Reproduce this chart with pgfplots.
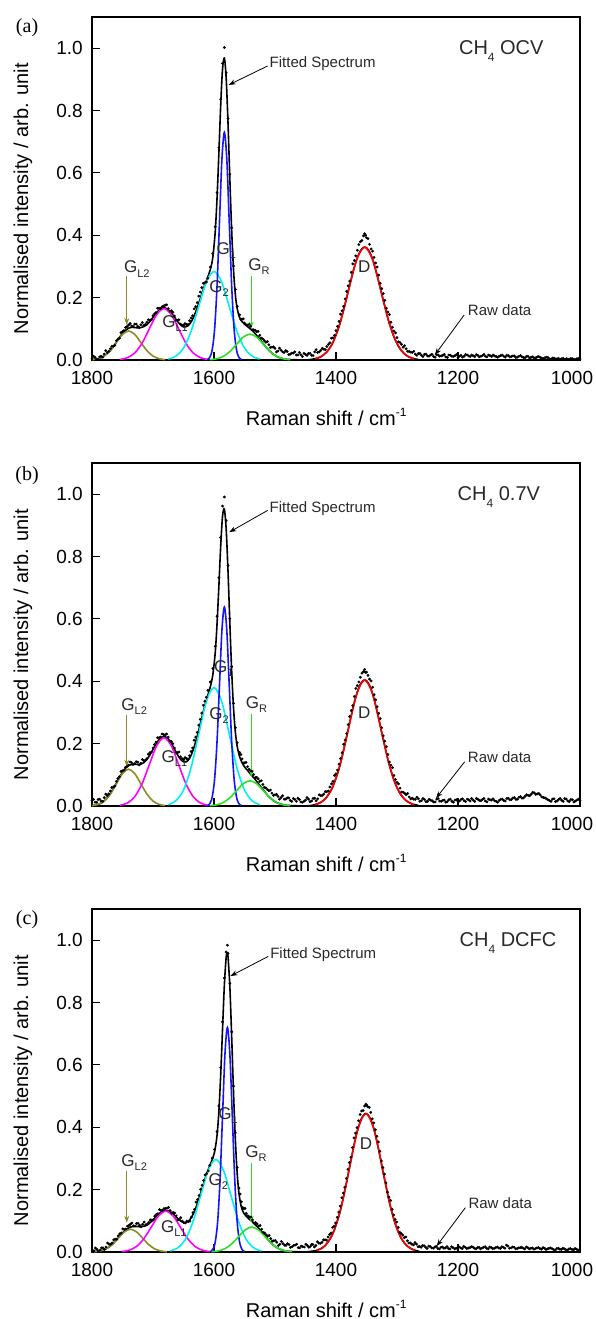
\documentclass[border=0pt]{standalone}
\usepackage{pgfplots}
\pgfplotsset{compat=1.18}
\usepackage{fontspec}
\setmainfont{Liberation Sans}
\newfontfamily\serif{Liberation Serif}
\usetikzlibrary{arrows.meta}

\definecolor{cOlive}{RGB}{140,140,35}
\definecolor{cMag}{RGB}{255,0,255}
\definecolor{cCyan}{RGB}{0,240,240}
\definecolor{cBlue}{RGB}{20,20,255}
\definecolor{cGreen}{RGB}{40,225,40}
\definecolor{cRed}{RGB}{255,0,0}
\definecolor{cTxt}{RGB}{40,40,40}

\newcommand{\sub}[1]{\raisebox{-0.45ex}{\fontsize{11}{11}\selectfont #1}}
\newcommand{\chsub}{\raisebox{-0.65ex}{\fontsize{12}{12}\selectfont 4}}

\pgfplotsset{
  raman/.style={
    scale only axis, width=488pt, height=343pt,
    xmin=1000, xmax=1800, x dir=reverse,
    ymin=0, ymax=1.1,
    xtick={1200,1400,1600,1800},
    extra x ticks={1000},
    extra x tick style={xticklabel style={xshift=-8pt}},
    ytick={0,0.2,0.4,0.6,0.8,1.0},
    tick pos=left, tick align=inside,
    major tick length=8pt,
    tick style={line width=1.1pt, black},
    axis line style={line width=1.3pt},
    /pgf/number format/assume math mode=true,
    ticklabel style={font=\fontsize{19}{20}\selectfont},
    xticklabel style={/pgf/number format/1000 sep={}, anchor=center,
      inner sep=0pt, yshift=-18.4pt},
    yticklabel style={/pgf/number format/fixed,
      /pgf/number format/fixed zerofill, /pgf/number format/precision=1,
      anchor=east, inner sep=0pt, xshift=-9pt},
    xlabel={Raman shift / cm\raisebox{0.85ex}{\fontsize{12}{12}\selectfont -1}},
    ylabel={Normalised intensity / arb. unit},
    label style={font=\fontsize{20}{24}\selectfont},
    xlabel style={at={(rel axis cs:0.48,-0.165)}, anchor=center, inner sep=0pt},
    ylabel style={at={(rel axis cs:-0.1414,0.47)}, anchor=center, inner sep=0pt},
    clip=false,
  },
  raw/.style={only marks, mark=*, mark size=1.2pt, black},
  fit/.style={black, line width=1.6pt, smooth},
  comp/.style={line width=1.6pt, smooth},
}

\tikzset{
  ann/.style={font=\fontsize{15}{15}\selectfont, text=cTxt, inner sep=0pt},
  glab/.style={font=\fontsize{17}{17}\selectfont, text=cTxt, inner sep=0pt, anchor=base west},
  plab/.style={font=\serif\fontsize{20}{20}\selectfont, anchor=center},
  cond/.style={font=\fontsize{20}{20}\selectfont, text=cTxt, inner sep=0pt},
  arr/.style={line width=0.8pt, -{Stealth[length=7pt,width=5pt]}},
}

\begin{document}
\begin{tikzpicture}
\useasboundingbox (0pt,0pt) rectangle (595pt,1319pt);

% ---------------- (a) CH4 OCV ----------------
\begin{axis}[raman, at={(92pt,959pt)}, anchor=south west]
\addplot[raw] coordinates {
(1800,.004)(1795,.008)(1790,.002)(1785,.012)(1780,.019)(1775,.024)(1770,.036)(1765,.044)
(1760,.062)(1755,.070)(1750,.091)(1745,.104)(1740,.112)(1735,.109)(1730,.115)(1725,.108)
(1720,.113)(1715,.111)(1710,.121)(1705,.128)(1700,.142)(1695,.152)(1690,.166)(1685,.171)
(1680,.176)(1675,.165)(1670,.158)(1665,.141)(1660,.127)(1655,.115)(1650,.112)(1645,.114)
(1640,.126)(1635,.142)(1630,.171)(1625,.205)(1620,.232)(1615,.248)(1610,.262)(1606,.298)
(1602,.341)(1598,.428)(1595,.537)(1592,.681)(1589,.836)(1586,.951)(1583,1.002)(1580,.921)
(1577,.774)(1574,.596)(1571,.424)(1568,.301)(1565,.226)(1562,.172)(1558,.145)(1554,.131)
(1550,.118)(1545,.112)(1540,.108)(1535,.097)(1530,.091)(1525,.079)(1520,.068)(1515,.057)
(1510,.049)(1505,.041)(1500,.037)(1495,.029)(1490,.031)(1485,.024)(1480,.027)(1475,.019)
(1470,.022)(1465,.016)(1460,.024)(1455,.011)(1450,.018)(1445,.021)(1440,.015)(1435,.026)
(1430,.024)(1425,.031)(1420,.035)(1415,.043)(1410,.055)(1405,.071)(1400,.094)(1395,.124)
(1390,.158)(1385,.196)(1380,.238)(1375,.281)(1370,.319)(1365,.352)(1360,.379)(1355,.398)
(1353,.405)(1350,.392)(1345,.371)(1340,.349)(1335,.311)(1330,.272)(1325,.229)(1320,.191)
(1315,.154)(1310,.121)(1305,.093)(1300,.072)(1295,.056)(1290,.041)(1285,.036)(1280,.027)
(1275,.024)(1270,.019)(1265,.021)(1260,.015)(1255,.018)(1250,.013)(1245,.016)(1240,.011)
(1235,.017)(1230,.012)(1225,.015)(1220,.010)(1215,.016)(1210,.012)(1205,.014)(1200,.009)
(1195,.015)(1190,.012)(1185,.016)(1180,.011)(1175,.013)(1170,.017)(1165,.010)(1160,.014)
(1155,.012)(1150,.016)(1145,.011)(1140,.013)(1135,.009)(1130,.014)(1125,.012)(1120,.015)
(1115,.010)(1110,.013)(1105,.008)(1100,.012)(1095,.010)(1090,.007)(1085,.011)(1080,.009)
(1075,.006)(1070,.010)(1065,.008)(1060,.005)(1055,.009)(1050,.004)(1045,.006)(1040,.003)
(1035,.005)(1030,.004)(1025,.002)(1020,.003)(1015,.005)(1010,.002)(1005,.004)(1000,.003)
};
\addplot[raw] coordinates {
(1797.5,.012)(1792.5,.001)(1787.5,.010)(1782.5,.009)(1777.5,.030)(1772.5,.028)(1767.5,.044)
(1762.5,.047)(1757.5,.067)(1752.5,.088)(1747.5,.094)(1742.5,.107)(1737.5,.117)(1732.5,.107)
(1727.5,.115)(1722.5,.104)(1717.5,.120)(1712.5,.114)(1707.5,.129)(1702.5,.129)(1697.5,.148)
(1692.5,.166)(1687.5,.165)(1682.5,.173)(1677.5,.177)(1672.5,.157)(1667.5,.153)(1662.5,.127)
(1657.5,.129)(1652.5,.112)(1647.5,.117)(1642.5,.114)(1637.5,.135)(1632.5,.164)(1627.5,.184)
(1622.5,.218)(1617.5,.246)(1612.5,.250)
(1556,.131)(1552,.132)(1547.5,.113)(1542.5,.114)(1537.5,.097)(1532.5,.095)(1527.5,.092)
(1522.5,.070)(1517.5,.062)(1512.5,.059)(1507.5,.040)(1502.5,.042)(1497.5,.026)(1492.5,.038)
(1487.5,.026)(1482.5,.030)(1477.5,.017)(1472.5,.022)(1467.5,.026)(1462.5,.016)(1457.5,.017)
(1452.5,.021)(1447.5,.015)(1442.5,.021)(1437.5,.014)(1432.5,.033)(1427.5,.026)(1422.5,.037)
(1417.5,.033)(1412.5,.050)(1407.5,.070)(1402.5,.079)(1397.5,.108)(1392.5,.147)(1387.5,.172)
(1382.5,.220)(1377.5,.253)(1372.5,.308)(1367.5,.334)(1362.5,.370)(1357.5,.383)(1351.5,.400)
(1347.5,.389)(1342.5,.356)(1337.5,.329)(1332.5,.298)(1327.5,.246)(1322.5,.213)(1317.5,.166)
(1312.5,.146)(1307.5,.105)(1302.5,.087)(1297.5,.058)(1292.5,.050)(1287.5,.046)(1282.5,.028)
(1277.5,.025)(1272.5,.028)(1267.5,.015)(1262.5,.021)
(1257.5,.011)(1252.5,.019)(1247.5,.012)(1242.5,.018)(1237.5,.009)(1232.5,.016)(1227.5,.013)
(1222.5,.018)(1217.5,.008)(1212.5,.015)(1207.5,.011)(1202.5,.017)(1197.5,.012)(1192.5,.009)
(1187.5,.018)(1182.5,.013)(1177.5,.016)(1172.5,.011)(1167.5,.015)(1162.5,.012)(1157.5,.018)
(1152.5,.010)(1147.5,.014)(1142.5,.016)(1137.5,.011)(1132.5,.012)(1127.5,.016)(1122.5,.009)
(1117.5,.014)(1112.5,.011)(1107.5,.013)(1102.5,.009)(1097.5,.014)(1092.5,.008)(1087.5,.012)
(1082.5,.006)(1077.5,.010)(1072.5,.007)(1067.5,.011)(1062.5,.006)(1057.5,.007)(1052.5,.008)
(1047.5,.003)(1042.5,.006)(1037.5,.004)(1032.5,.002)(1027.5,.005)(1022.5,.004)(1017.5,.002)
(1012.5,.004)(1007.5,.001)(1002.5,.005)
};
\addplot[fit] coordinates {
(1800,.001)(1795,.002)(1790,.004)(1785,.007)(1780,.013)(1775,.021)(1770,.030)(1765,.043)
(1760,.057)(1755,.072)(1750,.085)(1745,.095)(1740,.102)(1735,.105)(1730,.104)(1725,.103)
(1720,.104)(1715,.107)(1710,.113)(1705,.124)(1700,.137)(1695,.150)(1690,.160)(1685,.167)
(1680,.167)(1675,.161)(1670,.151)(1665,.138)(1660,.124)(1655,.113)(1650,.106)(1645,.107)
(1640,.115)(1635,.131)(1630,.154)(1625,.182)(1620,.212)(1615,.241)(1610,.267)(1606,.290)
(1602,.328)(1598,.411)(1595,.519)(1592,.663)(1589,.817)(1586,.933)(1583,.968)(1580,.903)
(1577,.759)(1574,.580)(1571,.415)(1568,.290)(1565,.210)(1562,.165)(1558,.136)(1554,.123)
(1550,.115)(1545,.107)(1540,.099)(1535,.090)(1530,.079)(1525,.067)(1520,.054)(1515,.042)
(1510,.031)(1505,.022)(1500,.015)(1495,.009)(1490,.006)(1485,.003)(1480,.002)(1470,.001)
(1450,.000)(1440,.002)(1435,.004)(1430,.006)(1425,.010)(1420,.017)(1415,.026)(1410,.039)
(1405,.056)(1400,.080)(1395,.107)(1390,.142)(1385,.179)(1380,.220)(1375,.260)(1370,.297)
(1365,.328)(1360,.350)(1355,.361)(1353,.362)(1350,.360)(1345,.347)(1340,.323)(1335,.289)
(1330,.252)(1325,.211)(1320,.172)(1315,.134)(1310,.102)(1305,.074)(1300,.053)(1295,.036)
(1290,.024)(1285,.015)(1280,.009)(1275,.006)(1270,.003)(1265,.002)
};
\addplot[comp, cOlive] coordinates {(1800,.001)(1790,.0041)(1780,.0126)(1770,.0302)(1760,.0564)(1750,.0821)(1740,.093)(1730,.0821)(1720,.0564)(1710,.0302)(1700,.0126)(1690,.0041)(1680,.001)};
\addplot[comp, cMag] coordinates {(1754,.0018)(1742,.0073)(1730,.0223)(1718,.0536)(1706,.1001)(1694,.1456)(1682,.165)(1670,.1456)(1658,.1001)(1646,.0536)(1634,.0223)(1622,.0073)(1610,.0018)};
\addplot[comp, cCyan] coordinates {(1675,.0031)(1662.5,.0125)(1650,.0383)(1637.5,.0923)(1625,.1722)(1612.5,.2506)(1600,.284)(1587.5,.2506)(1575,.1722)(1562.5,.0923)(1550,.0383)(1537.5,.0125)(1525,.0031)};
\addplot[comp, cBlue] coordinates {(1611,.0016)(1607,.008)(1603,.032)(1599,.0986)(1595,.2373)(1591,.4427)(1587,.6442)(1583,.73)(1579,.6442)(1575,.4427)(1571,.2373)(1567,.0986)(1563,.032)(1559,.008)(1555,.0016)};
\addplot[comp, cGreen] coordinates {(1607,.0009)(1596,.0037)(1585,.0112)(1574,.027)(1563,.0503)(1552,.0732)(1541,.083)(1530,.0732)(1519,.0503)(1508,.027)(1497,.0112)(1486,.0037)(1475,.0009)};
\addplot[comp, cRed] coordinates {(1434,.004)(1420.5,.0159)(1407,.0489)(1393.5,.1177)(1380,.2196)(1366.5,.3195)(1353,.362)(1339.5,.3195)(1326,.2196)(1312.5,.1177)(1299,.0489)(1285.5,.0159)(1272,.004)};
\node[plab] at (rel axis cs:-0.133,0.968) {(a)};
\node[cond] at (axis cs:1129,0.99) {CH\chsub\ OCV};
\node[ann, anchor=west] at (axis cs:1509,0.95) {Fitted Spectrum};
\draw[arr] (axis cs:1512,0.943) -- (axis cs:1576,0.882);
\node[ann, anchor=west] at (axis cs:1184,0.16) {Raw data};
\draw[arr] (axis cs:1190,0.144) -- (axis cs:1238,0.016);
\node[glab] at (axis cs:1747.6,0.279) {G\sub{L2}};
\draw[arr, cOlive] (axis cs:1743,0.268) -- (axis cs:1743,0.112);
\node[glab] at (axis cs:1685,0.105) {G\sub{L1}};
\node[glab] at (axis cs:1596,0.337) {G\sub{1}};
\node[glab] at (axis cs:1608,0.217) {G\sub{2}};
\node[glab] at (axis cs:1544,0.287) {G\sub{R}};
\draw[arr, cGreen] (axis cs:1539,0.268) -- (axis cs:1539,0.101);
\node[glab] at (axis cs:1364,0.281) {D};
\end{axis}

% ---------------- (b) CH4 0.7V ----------------
\begin{axis}[raman, at={(92pt,513pt)}, anchor=south west]
\addplot[raw] coordinates {
(1800,.018)(1795,.012)(1790,.021)(1785,.016)(1780,.027)(1775,.033)(1770,.048)(1765,.061)
(1760,.079)(1755,.094)(1750,.113)(1745,.124)(1740,.131)(1735,.139)(1730,.136)(1725,.141)
(1720,.137)(1715,.145)(1710,.152)(1705,.171)(1700,.186)(1695,.205)(1690,.219)(1685,.231)
(1680,.228)(1675,.221)(1670,.207)(1665,.186)(1660,.171)(1655,.158)(1650,.149)(1645,.152)
(1640,.161)(1635,.186)(1630,.221)(1625,.259)(1620,.298)(1615,.336)(1610,.371)(1606,.398)
(1602,.441)(1598,.512)(1595,.608)(1592,.732)(1589,.861)(1586,.962)(1583,.991)(1580,.915)
(1577,.771)(1574,.601)(1571,.447)(1568,.329)(1565,.251)(1562,.203)(1558,.172)(1554,.151)
(1550,.138)(1545,.126)(1540,.113)(1535,.101)(1530,.092)(1525,.079)(1520,.069)(1515,.058)
(1510,.049)(1505,.041)(1500,.036)(1495,.031)(1490,.027)(1485,.022)(1480,.026)(1475,.018)
(1470,.024)(1465,.015)(1460,.021)(1455,.012)(1450,.019)(1445,.022)(1440,.016)(1435,.025)
(1430,.023)(1425,.033)(1420,.038)(1415,.046)(1410,.061)(1405,.079)(1400,.103)(1395,.134)
(1390,.171)(1385,.212)(1380,.261)(1375,.306)(1370,.351)(1365,.386)(1360,.413)(1355,.431)
(1353,.438)(1350,.429)(1345,.407)(1340,.381)(1335,.341)(1330,.297)(1325,.251)(1320,.208)
(1315,.165)(1310,.131)(1305,.098)(1300,.076)(1295,.057)(1290,.044)(1285,.036)(1280,.029)
(1275,.025)(1270,.021)(1265,.023)(1260,.017)(1255,.021)(1250,.015)(1245,.019)(1240,.013)
(1235,.022)(1230,.016)(1225,.018)(1220,.012)(1215,.020)(1210,.015)(1205,.019)(1200,.014)
(1195,.021)(1190,.017)(1185,.022)(1180,.016)(1175,.019)(1170,.024)(1165,.018)(1160,.021)
(1155,.016)(1150,.022)(1145,.019)(1140,.017)(1135,.012)(1130,.021)(1125,.018)(1120,.024)
(1115,.020)(1110,.026)(1105,.021)(1100,.028)(1095,.025)(1090,.031)(1085,.034)(1080,.038)
(1075,.042)(1070,.039)(1065,.035)(1060,.027)(1055,.023)(1050,.017)(1045,.022)(1040,.014)
(1035,.021)(1030,.018)(1025,.024)(1020,.016)(1015,.021)(1010,.013)(1005,.019)(1000,.017)
};
\addplot[raw] coordinates {
(1797.5,.021)(1792.5,.012)(1787.5,.022)(1782.5,.015)(1777.5,.038)(1772.5,.039)(1767.5,.059)
(1762.5,.064)(1757.5,.088)(1752.5,.111)(1747.5,.115)(1742.5,.127)(1737.5,.141)(1732.5,.133)
(1727.5,.142)(1722.5,.132)(1717.5,.149)(1712.5,.147)(1707.5,.166)(1702.5,.173)(1697.5,.197)
(1692.5,.219)(1687.5,.221)(1682.5,.229)(1677.5,.231)(1672.5,.209)(1667.5,.200)(1662.5,.172)
(1657.5,.173)(1652.5,.152)(1647.5,.155)(1642.5,.151)(1637.5,.175)(1632.5,.211)(1627.5,.236)
(1622.5,.278)(1617.5,.323)(1612.5,.349)
(1556,.165)(1552,.138)(1547.5,.140)(1542.5,.118)(1537.5,.111)(1532.5,.091)(1527.5,.087)
(1522.5,.081)(1517.5,.060)(1512.5,.053)(1507.5,.051)(1502.5,.034)(1497.5,.037)(1492.5,.022)
(1487.5,.033)(1482.5,.022)(1477.5,.026)(1472.5,.015)(1467.5,.021)(1462.5,.025)(1457.5,.013)
(1452.5,.015)(1447.5,.027)(1442.5,.014)(1437.5,.024)(1432.5,.017)(1427.5,.036)(1422.5,.034)
(1417.5,.046)(1412.5,.048)(1407.5,.071)(1402.5,.098)(1397.5,.115)(1392.5,.152)(1387.5,.198)
(1382.5,.232)(1377.5,.287)(1372.5,.322)(1367.5,.377)(1362.5,.398)(1357.5,.426)(1351.5,.428)
(1347.5,.419)(1342.5,.401)(1337.5,.357)(1332.5,.318)(1327.5,.280)(1322.5,.225)(1317.5,.190)
(1312.5,.141)(1307.5,.123)(1302.5,.085)(1297.5,.071)(1292.5,.045)(1287.5,.041)(1282.5,.040)
(1277.5,.023)(1272.5,.022)(1267.5,.028)(1262.5,.015)
(1257.5,.024)(1252.5,.014)(1247.5,.021)(1242.5,.017)(1237.5,.013)(1232.5,.024)(1227.5,.015)
(1222.5,.019)(1217.5,.014)(1212.5,.022)(1207.5,.012)(1202.5,.020)(1197.5,.016)(1192.5,.023)
(1187.5,.014)(1182.5,.020)(1177.5,.024)(1172.5,.015)(1167.5,.022)(1162.5,.017)(1157.5,.024)
(1152.5,.013)(1147.5,.020)(1142.5,.023)(1137.5,.015)(1132.5,.018)(1127.5,.022)(1122.5,.016)
(1117.5,.025)(1112.5,.021)(1107.5,.027)(1102.5,.022)(1097.5,.030)(1092.5,.026)(1087.5,.036)
(1082.5,.033)(1077.5,.044)(1072.5,.037)(1067.5,.040)(1062.5,.029)(1057.5,.026)(1052.5,.020)
(1047.5,.015)(1042.5,.023)(1037.5,.016)(1032.5,.024)(1027.5,.015)(1022.5,.022)(1017.5,.014)
(1012.5,.020)(1007.5,.016)(1002.5,.022)
};
\addplot[fit] coordinates {
(1800,.001)(1795,.003)(1790,.005)(1785,.009)(1780,.016)(1775,.026)(1770,.039)(1765,.055)
(1760,.073)(1755,.091)(1750,.108)(1745,.121)(1740,.130)(1735,.133)(1730,.134)(1725,.133)
(1720,.134)(1715,.139)(1710,.149)(1705,.164)(1700,.181)(1695,.199)(1690,.213)(1685,.221)
(1680,.222)(1675,.215)(1670,.201)(1665,.183)(1660,.165)(1655,.150)(1650,.142)(1645,.142)
(1640,.153)(1635,.175)(1630,.206)(1625,.243)(1620,.284)(1615,.322)(1610,.356)(1606,.382)
(1602,.420)(1598,.491)(1595,.584)(1592,.705)(1589,.834)(1586,.929)(1583,.952)(1580,.887)
(1577,.752)(1574,.586)(1571,.433)(1568,.315)(1565,.238)(1562,.192)(1558,.158)(1554,.139)
(1550,.126)(1545,.114)(1540,.102)(1535,.091)(1530,.079)(1525,.066)(1520,.054)(1515,.041)
(1510,.030)(1505,.021)(1500,.014)(1495,.009)(1490,.006)(1485,.003)(1480,.002)(1470,.001)
(1450,.000)(1440,.002)(1435,.004)(1430,.007)(1425,.011)(1420,.019)(1415,.029)(1410,.044)
(1405,.063)(1400,.089)(1395,.120)(1390,.158)(1385,.200)(1380,.245)(1375,.290)(1370,.331)
(1365,.366)(1360,.391)(1355,.403)(1353,.404)(1350,.402)(1345,.387)(1340,.360)(1335,.323)
(1330,.281)(1325,.235)(1320,.192)(1315,.150)(1310,.114)(1305,.083)(1300,.059)(1295,.040)
(1290,.027)(1285,.017)(1280,.011)(1275,.006)(1270,.004)(1265,.002)
};
\addplot[comp, cOlive] coordinates {(1800,.0013)(1790,.0052)(1780,.0159)(1770,.0384)(1760,.0716)(1750,.1041)(1740,.118)(1730,.1041)(1720,.0716)(1710,.0384)(1700,.0159)(1690,.0052)(1680,.0013)};
\addplot[comp, cMag] coordinates {(1754,.0024)(1742,.0096)(1730,.0296)(1718,.0712)(1706,.1328)(1694,.1933)(1682,.219)(1670,.1933)(1658,.1328)(1646,.0712)(1634,.0296)(1622,.0096)(1610,.0024)};
\addplot[comp, cCyan] coordinates {(1675,.0042)(1662.5,.0167)(1650,.0513)(1637.5,.1235)(1625,.2305)(1612.5,.3354)(1600,.38)(1587.5,.3354)(1575,.2305)(1562.5,.1235)(1550,.0513)(1537.5,.0167)(1525,.0042)};
\addplot[comp, cBlue] coordinates {(1611,.0013)(1607,.007)(1603,.0281)(1599,.0861)(1595,.2074)(1591,.3869)(1587,.563)(1583,.638)(1579,.563)(1575,.3869)(1571,.2074)(1567,.0861)(1563,.0281)(1559,.007)(1555,.0013)};
\addplot[comp, cGreen] coordinates {(1607,.0009)(1596,.0036)(1585,.0109)(1574,.0263)(1563,.0491)(1552,.0715)(1541,.081)(1530,.0715)(1519,.0491)(1508,.0263)(1497,.0109)(1486,.0036)(1475,.0009)};
\addplot[comp, cRed] coordinates {(1434,.0044)(1420.5,.0178)(1407,.0545)(1393.5,.1313)(1380,.245)(1366.5,.3565)(1353,.404)(1339.5,.3565)(1326,.245)(1312.5,.1313)(1299,.0545)(1285.5,.0178)(1272,.0044)};
\node[plab] at (rel axis cs:-0.133,0.962) {(b)};
\node[cond] at (axis cs:1133,0.99) {CH\chsub\ 0.7V};
\node[ann, anchor=west] at (axis cs:1509,0.955) {Fitted Spectrum};
\draw[arr] (axis cs:1512,0.948) -- (axis cs:1575,0.878);
\node[ann, anchor=west] at (axis cs:1184,0.158) {Raw data};
\draw[arr] (axis cs:1189,0.142) -- (axis cs:1236,0.025);
\node[glab] at (axis cs:1752,0.307) {G\sub{L2}};
\draw[arr, cOlive] (axis cs:1743,0.292) -- (axis cs:1743,0.126);
\node[glab] at (axis cs:1686,0.139) {G\sub{L1}};
\node[glab] at (axis cs:1600,0.428) {G\sub{1}};
\node[glab] at (axis cs:1608,0.278) {G\sub{2}};
\node[glab] at (axis cs:1548,0.314) {G\sub{R}};
\draw[arr, cGreen] (axis cs:1539,0.294) -- (axis cs:1539,0.094);
\node[glab] at (axis cs:1364,0.280) {D};
\end{axis}

% ---------------- (c) CH4 DCFC ----------------
\begin{axis}[raman, at={(92pt,67pt)}, anchor=south west]
\addplot[raw] coordinates {
(1797,.004)(1792,.009)(1787,.006)(1782,.013)(1777,.016)(1772,.025)(1767,.029)(1762,.041)
(1757,.052)(1752,.061)(1747,.072)(1742,.083)(1737,.089)(1732,.084)(1727,.091)(1722,.086)
(1717,.089)(1712,.087)(1707,.095)(1702,.102)(1697,.115)(1692,.123)(1687,.134)(1682,.139)
(1677,.141)(1672,.133)(1667,.127)(1662,.116)(1657,.104)(1652,.099)(1647,.093)(1642,.097)
(1637,.112)(1632,.137)(1627,.168)(1622,.201)(1617,.229)(1612,.252)(1607,.278)(1603,.301)
(1599,.329)(1595,.386)(1592,.468)(1589,.591)(1586,.738)(1583,.879)(1580,.962)(1578,.984)
(1577,.958)(1574,.862)(1571,.706)(1568,.532)(1565,.382)(1562,.271)(1559,.205)(1555,.161)
(1551,.139)(1547,.124)(1542,.112)(1537,.103)(1532,.094)(1527,.083)(1522,.073)(1517,.061)
(1512,.051)(1507,.043)(1502,.036)(1497,.031)(1492,.025)(1487,.027)(1482,.021)(1477,.024)
(1472,.017)(1467,.022)(1462,.014)(1457,.019)(1452,.016)(1447,.021)(1442,.018)(1438,.024)
(1433,.021)(1428,.028)(1423,.031)(1418,.039)(1413,.048)(1408,.061)(1403,.083)(1398,.111)
(1393,.147)(1388,.189)(1383,.236)(1378,.287)(1373,.335)(1368,.381)(1363,.421)(1358,.452)
(1353,.468)(1351,.474)(1348,.466)(1343,.448)(1338,.414)(1333,.371)(1328,.323)(1323,.271)
(1318,.222)(1313,.176)(1308,.137)(1303,.104)(1298,.079)(1293,.059)(1288,.046)(1283,.036)
(1278,.029)(1273,.023)(1268,.025)(1263,.018)(1258,.021)(1253,.015)(1248,.019)(1243,.013)
(1238,.016)(1233,.011)(1228,.015)(1223,.012)(1218,.017)(1213,.010)(1208,.014)(1203,.012)
(1198,.016)(1193,.011)(1188,.015)(1183,.013)(1178,.017)(1173,.012)(1168,.014)(1163,.010)
(1158,.015)(1153,.012)(1148,.016)(1143,.011)(1138,.014)(1133,.013)(1128,.017)(1123,.012)
(1118,.019)(1113,.013)(1108,.015)(1103,.011)(1098,.014)(1093,.012)(1088,.016)(1083,.010)
(1078,.013)(1073,.011)(1068,.014)(1063,.009)(1058,.012)(1053,.010)(1048,.013)(1043,.008)
(1038,.011)(1033,.009)(1028,.012)(1023,.007)(1018,.010)(1013,.008)(1008,.011)(1003,.006)
};
\addplot[raw] coordinates {
(1799.5,.002)(1794.5,.013)(1789.5,.003)(1784.5,.013)(1779.5,.008)(1774.5,.029)(1769.5,.025)
(1764.5,.039)(1759.5,.041)(1754.5,.058)(1749.5,.074)(1744.5,.074)(1739.5,.085)(1734.5,.093)
(1729.5,.083)(1724.5,.092)(1719.5,.081)(1714.5,.096)(1709.5,.089)(1704.5,.103)(1699.5,.103)
(1694.5,.120)(1689.5,.136)(1684.5,.133)(1679.5,.139)(1674.5,.143)(1669.5,.125)(1664.5,.125)
(1659.5,.103)(1654.5,.110)(1649.5,.094)(1644.5,.099)(1639.5,.099)(1634.5,.126)(1629.5,.160)
(1624.5,.181)(1619.5,.214)(1614.5,.247)(1609.5,.260)
(1557,.186)(1553,.143)(1549,.140)(1544.5,.116)(1539.5,.112)(1534.5,.093)(1529.5,.090)
(1524.5,.085)(1519.5,.063)(1514.5,.055)(1509.5,.053)(1504.5,.035)(1499.5,.037)(1494.5,.021)
(1489.5,.034)(1484.5,.022)(1479.5,.027)(1474.5,.015)(1469.5,.021)(1464.5,.025)(1459.5,.013)
(1454.5,.017)(1449.5,.025)(1444.5,.015)(1440,.024)(1435.5,.016)(1430.5,.033)(1425.5,.028)
(1420.5,.039)(1415.5,.038)(1410.5,.056)(1405.5,.079)(1400.5,.093)(1395.5,.128)(1390.5,.174)
(1385.5,.208)(1380.5,.265)(1375.5,.304)(1370.5,.366)(1365.5,.399)(1360.5,.441)(1355.5,.454)
(1349.5,.471)(1345.5,.464)(1340.5,.427)(1335.5,.392)(1330.5,.353)(1325.5,.292)(1320.5,.250)
(1315.5,.192)(1310.5,.165)(1305.5,.119)(1300.5,.096)(1295.5,.063)(1290.5,.054)(1285.5,.048)
(1280.5,.029)(1275.5,.025)(1270.5,.030)(1265.5,.017)
(1260.5,.015)(1255.5,.020)(1250.5,.011)(1245.5,.017)(1240.5,.012)(1235.5,.018)(1230.5,.010)
(1225.5,.016)(1220.5,.013)(1215.5,.011)(1210.5,.017)(1205.5,.010)(1200.5,.015)(1195.5,.013)
(1190.5,.018)(1185.5,.011)(1180.5,.014)(1175.5,.016)(1170.5,.010)(1165.5,.015)(1160.5,.013)
(1155.5,.017)(1150.5,.010)(1145.5,.014)(1140.5,.012)(1135.5,.016)(1130.5,.011)(1125.5,.015)
(1120.5,.022)(1115.5,.012)(1110.5,.016)(1105.5,.010)(1100.5,.013)(1095.5,.015)(1090.5,.010)
(1085.5,.014)(1080.5,.012)(1075.5,.009)(1070.5,.013)(1065.5,.011)(1060.5,.014)(1055.5,.008)
(1050.5,.012)(1045.5,.010)(1040.5,.006)(1035.5,.012)(1030.5,.008)(1025.5,.010)(1020.5,.006)
(1015.5,.011)(1010.5,.007)(1005.5,.009)(1000.5,.005)
};
\addplot[fit] coordinates {
(1797,.001)(1792,.002)(1787,.003)(1782,.006)(1777,.010)(1772,.016)(1767,.024)(1762,.034)
(1757,.045)(1752,.056)(1747,.067)(1742,.075)(1737,.080)(1732,.082)(1727,.082)(1722,.081)
(1717,.082)(1712,.084)(1707,.090)(1702,.099)(1697,.109)(1692,.119)(1687,.128)(1682,.133)
(1677,.133)(1672,.129)(1667,.122)(1662,.112)(1657,.103)(1652,.096)(1647,.094)(1642,.099)
(1637,.111)(1632,.131)(1627,.157)(1622,.188)(1617,.220)(1612,.251)(1607,.277)(1603,.296)
(1599,.321)(1595,.374)(1592,.451)(1589,.568)(1586,.714)(1583,.856)(1580,.946)(1578,.958)
(1577,.947)(1574,.851)(1571,.690)(1568,.513)(1565,.361)(1562,.253)(1559,.187)(1555,.143)
(1551,.124)(1547,.114)(1542,.105)(1537,.097)(1532,.087)(1527,.077)(1522,.065)(1517,.053)
(1512,.041)(1507,.030)(1502,.021)(1497,.014)(1492,.009)(1487,.005)(1482,.003)(1477,.002)
(1467,.001)(1450,.000)(1438,.003)(1433,.004)(1428,.008)(1423,.012)(1418,.020)(1413,.032)
(1408,.048)(1403,.069)(1398,.098)(1393,.131)(1388,.174)(1383,.220)(1378,.269)(1373,.318)
(1368,.364)(1363,.402)(1358,.429)(1353,.443)(1351,.444)(1348,.441)(1343,.425)(1338,.396)
(1333,.355)(1328,.309)(1323,.258)(1318,.211)(1313,.164)(1308,.125)(1303,.091)(1298,.065)
(1293,.044)(1288,.029)(1283,.019)(1278,.012)(1273,.007)(1268,.004)(1263,.002)
};
\addplot[comp, cOlive] coordinates {(1797,.0008)(1787,.0032)(1777,.0099)(1767,.0237)(1757,.0443)(1747,.0644)(1737,.073)(1727,.0644)(1717,.0443)(1707,.0237)(1697,.0099)(1687,.0032)(1677,.0008)};
\addplot[comp, cMag] coordinates {(1751,.0014)(1739,.0058)(1727,.0177)(1715,.0426)(1703,.0795)(1691,.1156)(1679,.131)(1667,.1156)(1655,.0795)(1643,.0426)(1631,.0177)(1619,.0058)(1607,.0014)};
\addplot[comp, cCyan] coordinates {(1672,.0033)(1659.5,.0131)(1647,.0401)(1634.5,.0965)(1622,.1801)(1609.5,.2621)(1597,.297)(1584.5,.2621)(1572,.1801)(1559.5,.0965)(1547,.0401)(1534.5,.0131)(1522,.0033)};
\addplot[comp, cBlue] coordinates {(1606,.0016)(1602,.0079)(1598,.0317)(1594,.0972)(1590,.234)(1586,.4367)(1582,.6354)(1578,.72)(1574,.6354)(1570,.4367)(1566,.234)(1562,.0972)(1558,.0317)(1554,.0079)(1550,.0016)};
\addplot[comp, cGreen] coordinates {(1604,.0009)(1593,.0035)(1582,.0108)(1571,.026)(1560,.0485)(1549,.0706)(1538,.08)(1527,.0706)(1516,.0485)(1505,.026)(1494,.0108)(1483,.0035)(1472,.0009)};
\addplot[comp, cRed] coordinates {(1432,.0049)(1418.5,.0195)(1405,.0599)(1391.5,.1443)(1378,.2693)(1364.5,.3918)(1351,.444)(1337.5,.3918)(1324,.2693)(1310.5,.1443)(1297,.0599)(1283.5,.0195)(1270,.0049)};
\node[plab] at (rel axis cs:-0.133,0.968) {(c)};
\node[cond] at (axis cs:1118,0.99) {CH\chsub\ DCFC};
\node[ann, anchor=west] at (axis cs:1508,0.955) {Fitted Spectrum};
\draw[arr] (axis cs:1511,0.948) -- (axis cs:1573,0.885);
\node[ann, anchor=west] at (axis cs:1183,0.158) {Raw data};
\draw[arr] (axis cs:1188,0.142) -- (axis cs:1235,0.019);
\node[glab] at (axis cs:1752,0.275) {G\sub{L2}};
\draw[arr, cOlive] (axis cs:1743,0.26) -- (axis cs:1743,0.094);
\node[glab] at (axis cs:1687,0.062) {G\sub{L1}};
\node[glab] at (axis cs:1593,0.424) {G\sub{1}};
\node[glab] at (axis cs:1609,0.214) {G\sub{2}};
\node[glab] at (axis cs:1549,0.303) {G\sub{R}};
\draw[arr, cGreen] (axis cs:1539,0.286) -- (axis cs:1539,0.094);
\node[glab] at (axis cs:1361,0.328) {D};
\end{axis}
\end{tikzpicture}
\end{document}
